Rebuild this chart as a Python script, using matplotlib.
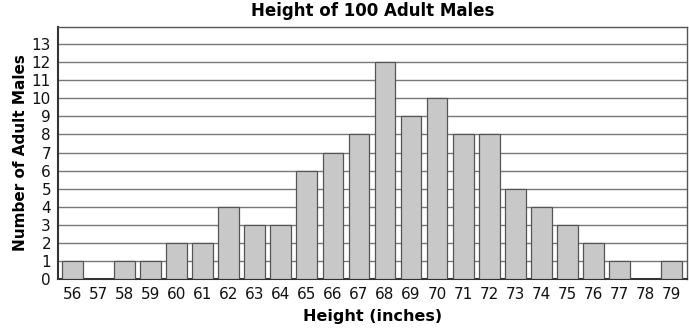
import matplotlib.pyplot as plt
import numpy as np

heights = list(range(56, 80))
counts = [1, 0, 1, 1, 2, 2, 4, 3, 3, 6, 7, 8, 12, 9, 10, 8, 8, 5, 4, 3, 2, 1, 0, 1]

fig = plt.figure(figsize=(6.89, 3.29), dpi=100)
ax = fig.add_axes([58/689, 50/329, 629/689, 252/329])

ax.bar(heights, counts, width=0.8, color='#c8c8c8', edgecolor='#555555',
       linewidth=0.9, zorder=3)

ax.set_xlim(55.44, 79.6)
ax.set_ylim(0, 13.95)
ax.set_yticks(range(0, 14))
ax.set_xticks(heights)
ax.yaxis.grid(True, color='#777777', linewidth=1.0, zorder=0)
ax.tick_params(axis='both', length=0, labelsize=11, colors='#111111')
ax.tick_params(axis='x', pad=6)
ax.tick_params(axis='y', pad=5)

for s in ['left', 'bottom']:
    ax.spines[s].set_color('#333333')
    ax.spines[s].set_linewidth(1.5)
for s in ['top', 'right']:
    ax.spines[s].set_color('#555555')
    ax.spines[s].set_linewidth(1.0)

ax.set_title('Height of 100 Adult Males', fontsize=12, fontweight='bold', pad=8)
ax.set_xlabel('Height (inches)', fontsize=11.5, fontweight='bold', labelpad=5)
ax.set_ylabel('Number of Adult Males', fontsize=11, fontweight='bold', labelpad=3)

fig.savefig('out.png', dpi=100)
